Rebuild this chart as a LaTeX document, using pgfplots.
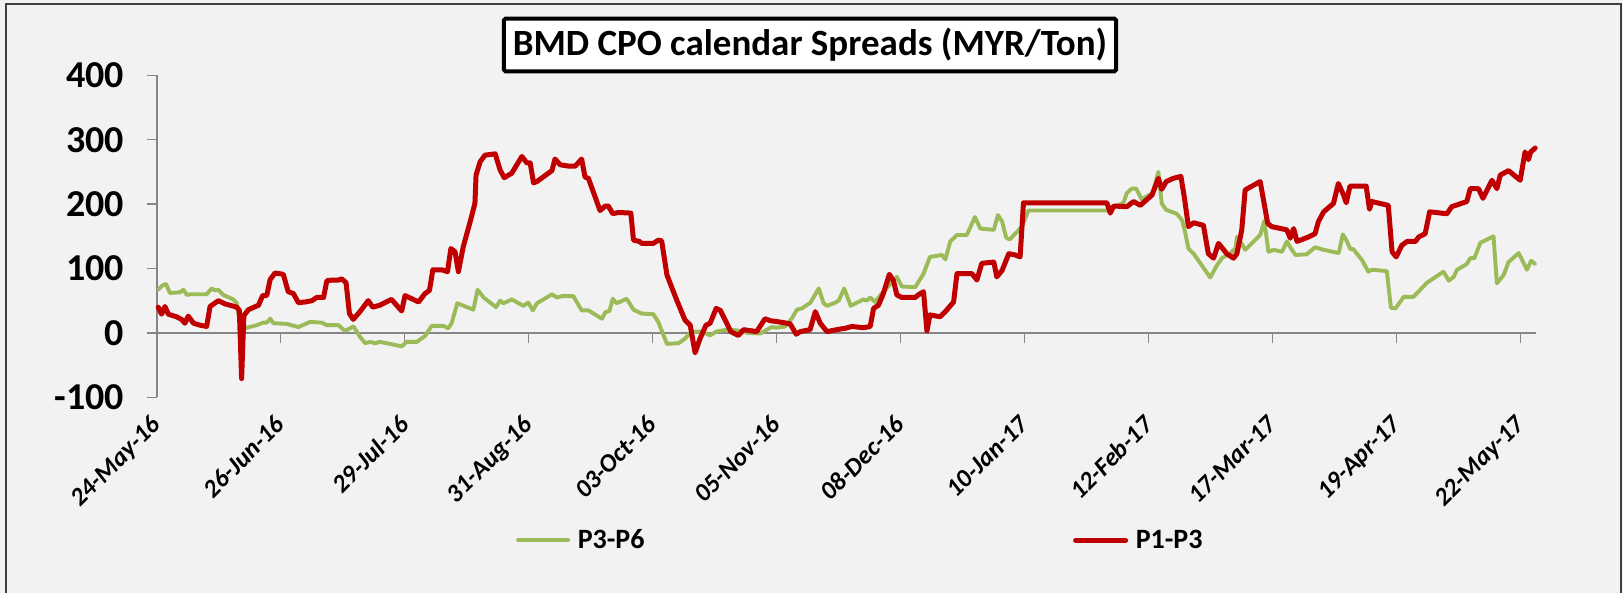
\documentclass[border=0pt]{standalone}
\usepackage{fontspec}
\setmainfont{Carlito}
\usepackage{pgfplots}
\pgfplotsset{compat=1.18}
\definecolor{bggray}{HTML}{F2F2F2}
\definecolor{axgray}{HTML}{868686}
\definecolor{pgreen}{HTML}{9BBB59}
\definecolor{pred}{HTML}{C00000}
\definecolor{framegray}{HTML}{404040}
\begin{document}
\begin{tikzpicture}
\useasboundingbox (-156.7pt,-195.7pt) rectangle (1466.3pt,397.3pt);
\fill[bggray] (-156.7pt,-195.7pt) rectangle (1466.3pt,397.3pt);
\draw[framegray, line width=2pt] (-150.3pt,-210pt) -- (-150.3pt,393.3pt) -- (1464.3pt,393.3pt) -- (1464.3pt,-210pt);
\begin{axis}[
  at={(0pt,0pt)}, anchor=south west,
  scale only axis, width=1378.9pt, height=322pt,
  xmin=0, xmax=367, ymin=-100, ymax=400,
  axis x line=middle, axis y line=left,
  hide obscured x ticks=false,
  axis line style={axgray, line width=1.7pt, -},
  every inner x axis line/.append style={-},
  every outer y axis line/.append style={-},
  tick align=outside, major tick length=10pt,
  tick style={axgray, line width=1.5pt},
  xtick={0,33,...,363},
  xticklabels={24-May-16,26-Jun-16,29-Jul-16,31-Aug-16,03-Oct-16,05-Nov-16,08-Dec-16,10-Jan-17,12-Feb-17,17-Mar-17,19-Apr-17,22-May-17},
  ytick={-100,0,100,200,300,400},
  yticklabels={-100,0,100,200,300,400},
  yticklabel style={font=\bfseries\fontsize{38}{38}\selectfont, anchor=east, inner sep=0pt, xshift=-22.5pt},
  xticklabel style={font=\bfseries\itshape\fontsize{25.5}{25.5}\selectfont, inner sep=0pt, anchor=north east, xshift=-7pt, yshift=-71pt, rotate=45},
  clip=false,
  title={BMD CPO calendar Spreads (MYR/Ton)},
  title style={at={(axis description cs:0.47378,1.07547)}, anchor=center, yshift=0pt, draw=black, line width=4pt, fill=white, rounded corners=1.5pt, font=\bfseries\fontsize{37}{40}\selectfont, minimum width=612pt, minimum height=52.6pt, inner sep=0pt},
  legend columns=2,
  legend style={draw=none, fill=none, at={(axis description cs:0.26057,-0.44317)}, anchor=west, column sep=7.7pt, inner sep=0pt, nodes={inner sep=0pt, font=\bfseries\fontsize{28}{28}\selectfont}},
  legend image code/.code={\draw[#1] (0pt,0pt) -- (50pt,0pt);},
]
\addplot[pgreen, line width=3.9pt, line join=round, line cap=round] coordinates {
(0.4,67) (1.6,74) (2.5,76) (3.5,62) (6.2,63) (7.1,67) (8.0,59) (8.9,60) (13.3,60) (14.6,69) (15.5,66) (16.4,67) (17.7,59) (20.4,52) (21.3,46) (22.0,20) (22.6,9) (24.0,8) (26.6,12) (28.4,16) (29.3,16) (30.2,22) (31.1,15) (34.6,14) (37.7,9) (40.8,17) (43.9,16) (45.3,12) (48.4,12) (50.1,3) (52.4,10) (54.1,-6) (55.5,-16) (56.8,-14) (58.1,-16) (59.4,-14) (62.1,-17) (65.2,-21) (66.5,-14) (69.2,-14) (71.4,-5) (73.2,11) (76.3,11) (77.6,7) (78.5,15) (80.0,46) (84.3,36) (85.4,67) (87.0,55) (90.3,40) (91.4,50) (92.3,46) (94.5,52) (97.6,42) (98.9,47) (100.1,35) (101.2,46) (105.2,60) (106.5,55) (107.8,57) (110.9,57) (113.1,35) (114.9,35) (118.5,22) (119.4,32) (120.5,34) (121.4,53) (122.4,46) (125.1,53) (126.9,36) (129.1,30) (132.2,29) (133.5,17) (135.8,-17) (138.9,-16) (140.6,-9) (142.0,0) (143.3,2) (144.6,2) (146.2,-1) (147.3,-4) (148.9,2) (151.7,5) (154.4,4) (157.4,0) (160.7,-1) (162.4,5) (163.7,9) (165.0,8) (167.3,10) (169.0,22) (170.4,36) (171.7,38) (174.0,47) (176.2,69) (177.5,46) (178.4,42) (180.6,47) (181.5,50) (183.0,69) (184.7,42) (188.1,52) (189.0,50) (189.9,55) (191.2,48) (193.4,64) (197.0,87) (198.3,72) (201.9,71) (204.1,92) (205.8,118) (209.0,121) (209.9,114) (211.2,142) (213.0,152) (215.6,152) (217.8,180) (219.2,162) (222.8,160) (223.9,183) (225.0,173) (226.1,148) (227.0,145) (228.5,154) (230.3,165) (232.0,190) (252.9,190) (257.3,202) (258.2,217) (259.5,224) (260.7,224) (262.2,207) (263.5,212) (265.1,217) (266.6,250) (267.5,201) (268.7,191) (271.5,185) (272.9,175) (273.7,157) (274.6,131) (276.0,123) (280.4,86) (282.2,105) (283.5,116) (285.8,124) (287.1,131) (287.5,149) (288.4,142) (289.7,129) (293.7,152) (294.8,174) (295.9,126) (297.3,129) (299.5,126) (300.8,142) (301.9,131) (303.1,121) (306.1,122) (308.3,133) (310.6,129) (314.6,124) (315.7,153) (316.8,142) (317.7,130) (318.5,130) (320.8,113) (322.5,95) (323.4,98) (327.4,96) (328.5,39) (329.7,38) (331.9,56) (334.5,56) (338.1,78) (342.5,95) (343.9,81) (345.2,87) (346.1,98) (348.7,107) (349.6,116) (350.7,116) (352.3,140) (355.8,150) (356.7,77) (358.5,90) (359.8,110) (362.5,124) (364.7,98) (365.8,112) (366.9,107)
};
\addlegendentry{\makebox[487.6pt][l]{P3-P6}}
\addplot[pred, line width=5pt, line join=round, line cap=round] coordinates {
(0.4,40) (1.3,29) (2.2,41) (3.1,29) (5.3,25) (6.6,21) (7.5,15) (8.4,26) (9.8,15) (11.5,12) (13.3,10) (14.2,41) (16.4,50) (18.2,45) (21.3,40) (22.0,35) (22.6,-71) (23.2,27) (24.4,36) (27.1,43) (28.2,58) (29.3,58) (30.2,83) (31.5,93) (33.7,91) (35.0,64) (36.4,61) (37.7,47) (39.5,48) (41.3,50) (42.6,55) (44.4,55) (45.3,81) (46.6,82) (48.4,82) (49.2,84) (50.4,78) (51.3,30) (52.3,21) (54.1,33) (56.3,50) (57.5,40) (59.4,43) (62.5,52) (65.2,34) (66.1,58) (67.9,53) (69.7,48) (71.4,61) (72.6,66) (73.5,98) (75.9,98) (77.4,95) (78.3,131) (79.4,126) (80.3,95) (81.6,134) (83.4,172) (84.7,201) (85.0,245) (86.1,266) (87.4,276) (90.1,278) (91.4,253) (92.5,241) (94.5,248) (97.2,274) (98.5,264) (99.4,264) (100.3,233) (101.2,235) (105.2,252) (106.0,270) (107.4,261) (109.6,259) (111.4,259) (113.1,270) (114.0,242) (114.9,240) (118.0,190) (119.4,197) (120.2,197) (121.4,185) (122.9,187) (126.2,186) (126.9,144) (128.5,142) (129.1,139) (132.2,139) (133.5,144) (134.4,143) (135.8,90) (138.4,51) (140.6,20) (142.0,12) (143.3,-31) (144.6,-9) (146.2,12) (147.3,15) (148.9,38) (150.0,35) (151.3,20) (152.8,2) (154.8,-4) (156.2,5) (159.7,2) (161.9,22) (163.3,19) (166.8,16) (168.6,14) (170.2,-2) (171.3,2) (173.9,5) (175.3,33) (176.6,15) (178.4,2) (181.9,6) (183.2,7) (185.0,10) (188.1,8) (189.9,10) (190.8,38) (192.1,43) (193.4,61) (195.0,91) (196.1,81) (197.0,59) (198.3,55) (201.9,55) (202.7,59) (204.1,64) (205.0,3) (205.8,28) (208.5,25) (209.9,33) (212.1,48) (213.0,92) (217.0,92) (218.3,82) (219.6,108) (222.8,110) (223.6,87) (225.0,97) (226.8,123) (228.5,121) (229.8,118) (230.7,202) (252.9,202) (253.8,186) (254.7,197) (258.2,196) (260.0,204) (261.8,198) (264.9,214) (266.6,240) (267.5,223) (268.7,235) (270.6,240) (272.6,243) (273.5,211) (274.6,165) (276.0,171) (278.6,167) (279.9,123) (281.3,116) (282.6,139) (284.8,123) (286.6,116) (287.5,123) (288.8,160) (289.7,222) (293.7,235) (295.7,170) (296.8,165) (300.8,160) (301.7,147) (302.6,162) (303.5,142) (306.6,149) (308.3,154) (309.2,173) (310.6,188) (313.2,201) (314.5,232) (315.9,214) (316.6,202) (317.6,228) (321.9,228) (322.8,192) (323.4,204) (327.8,198) (328.8,126) (329.9,118) (331.4,136) (332.8,142) (335.0,142) (335.9,149) (337.6,154) (338.8,188) (343.4,185) (344.7,196) (348.7,204) (349.6,224) (351.8,224) (353.0,209) (355.4,237) (356.7,224) (357.6,245) (359.8,252) (362.9,237) (364.2,281) (365.1,269) (365.7,281) (366.9,287)
};
\addlegendentry{P1-P3}
\end{axis}
\end{tikzpicture}
\end{document}
